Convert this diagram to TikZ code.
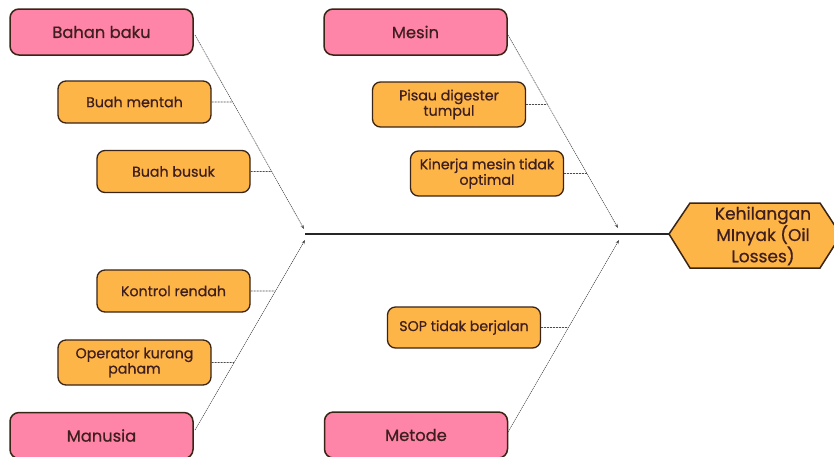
\documentclass[tikz,border=0pt]{standalone}
\usepackage{fontspec}
\setmainfont{Poppins}[FakeBold=0.6]
\usetikzlibrary{arrows.meta}
\definecolor{pinkfill}{HTML}{FF85A8}
\definecolor{orangefill}{HTML}{FDB548}
\definecolor{edgec}{HTML}{3A2416}
\definecolor{txtc}{HTML}{3E1E1E}
\begin{document}
\begin{tikzpicture}[x=1pt,y=-1pt,
  cat/.style={draw=edgec, line width=1.5pt, fill=pinkfill, rounded corners=9pt,
    minimum width=183pt, minimum height=46pt, inner sep=0pt,
    font=\fontsize{16.3}{18}\selectfont, text=txtc},
  sub/.style={draw=edgec, line width=1.3pt, fill=orangefill, rounded corners=8pt,
    minimum width=153pt, minimum height=42pt, inner sep=2pt, align=center,
    font=\fontsize{14.2}{14}\selectfont, text=txtc},
  bone/.style={draw=black!70, line width=0.6pt, dash pattern=on 1.2pt off 0.8pt,
    -{Stealth[length=4pt,width=3pt]}},
  twig/.style={draw=black!70, line width=0.6pt, dash pattern=on 2pt off 1pt},
  spine/.style={draw=black!85, line width=1.3pt}]
\useasboundingbox (0,0) rectangle (834,456);
\fill[white] (0,0) rectangle (834,456);
% categories
\node[cat] (bb) at (101.5,32) {Bahan baku};
\node[cat] (me) at (415.5,32) {Mesin};
\node[cat] (ma) at (101.5,435.5) {Manusia};
\node[cat] (mt) at (416,435) {Metode};
% sub-causes
\node[sub] (bm) at (134.5,102) {Buah mentah};
\node[sub] (bs) at (173.5,171.5) {Buah busuk};
\node[sub, minimum height=45pt] (pd) at (449,104.5) {Pisau digester\\tumpul};
\node[sub, minimum height=45pt] (km) at (487,173.5) {Kinerja mesin tidak\\optimal};
\node[sub] (kr) at (173.5,291) {Kontrol rendah};
\node[sub, minimum height=45pt] (op) at (134.5,362.5) {Operator kurang\\paham};
\node[sub, minimum height=41pt] (sop) at (464,327.5) {SOP tidak berjalan};
% effect hexagon
\coordinate (hexL) at (669,234);
\filldraw[draw=edgec, line width=1.5pt, fill=orangefill]
  (hexL) -- (690,203) -- (820,203) -- (841,235) -- (820,268) -- (690,268) -- cycle;
\node[align=center, text=txtc, inner sep=0pt, font=\fontsize{17}{17.5}\selectfont] (eff) at (763,236)
  {Kehilangan\\MInyak (Oil\\Losses)};
% spine
\coordinate (spS) at (305,234);
\draw[spine] (spS) -- (hexL);
% bone end points
\coordinate (j1) at (304,229);
\coordinate (j2) at (618,228);
\coordinate (j3) at (305,240);
\coordinate (j4) at (619,240);
\coordinate (bbs) at (195,35);
\coordinate (mes) at (508,35);
\coordinate (mas) at (195,430);
\coordinate (mts) at (508,432);
\draw[bone] (bbs) -- (j1);
\draw[bone] (mes) -- (j2);
\draw[bone] (mas) -- (j3);
\draw[bone] (mts) -- (j4);
% twigs
\coordinate (bmx) at ([xshift=10pt]bm.east);
\coordinate (bsx) at ([xshift=10pt]bs.east);
\coordinate (pdx) at ([xshift=10pt]pd.east);
\coordinate (kmx) at ([xshift=10pt]km.east);
\coordinate (krx) at ([xshift=10pt]kr.east);
\coordinate (opx) at ([xshift=10pt]op.east);
\coordinate (sopx) at ([xshift=10pt]sop.east);
\coordinate (t1) at (intersection of bbs--j1 and bm.east--bmx);
\coordinate (t2) at (intersection of bbs--j1 and bs.east--bsx);
\coordinate (t3) at (intersection of mes--j2 and pd.east--pdx);
\coordinate (t4) at (intersection of mes--j2 and km.east--kmx);
\coordinate (t5) at (intersection of mas--j3 and kr.east--krx);
\coordinate (t6) at (intersection of mas--j3 and op.east--opx);
\coordinate (t7) at (intersection of mts--j4 and sop.east--sopx);
\draw[twig] (bm.east) -- (t1);
\draw[twig] (bs.east) -- (t2);
\draw[twig] (pd.east) -- (t3);
\draw[twig] (km.east) -- (t4);
\draw[twig] (kr.east) -- (t5);
\draw[twig] (op.east) -- (t6);
\draw[twig] (sop.east) -- (t7);
\end{tikzpicture}
\end{document}
